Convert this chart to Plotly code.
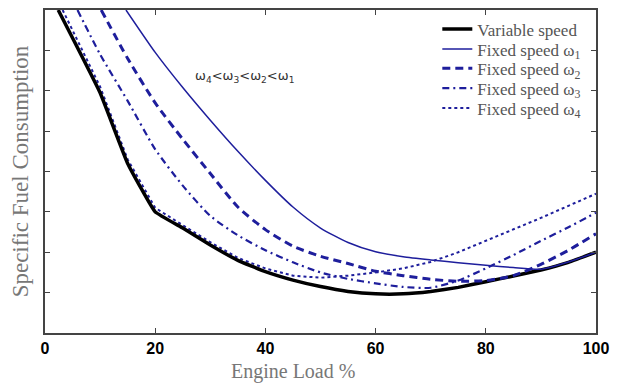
import plotly.graph_objects as go

# Engine load (%) sample points for each curve
load_var = [2.4, 10, 15, 20, 25, 30, 35, 40, 45, 50, 55, 60, 65, 70, 75, 80, 85, 90, 95, 100]
sfc_var = [8.0, 5.95, 4.2, 3.0, 2.6, 2.18, 1.8, 1.52, 1.31, 1.15, 1.03, 0.97, 0.97, 1.03, 1.13, 1.27, 1.41, 1.56, 1.75, 2.0]

load_w1 = [14.7, 20, 25, 30, 35, 40, 45, 50, 55, 60, 65, 70, 75, 80, 85, 90, 95, 100]
sfc_w1 = [8.0, 6.95, 6.08, 5.27, 4.5, 3.78, 3.12, 2.6, 2.24, 2.01, 1.89, 1.81, 1.74, 1.68, 1.62, 1.58, 1.76, 2.0]

load_w2 = [10.2, 15, 20, 25, 30, 35, 40, 45, 50, 55, 60, 65, 70, 75, 80, 85, 90, 95, 100]
sfc_w2 = [8.0, 6.8, 5.7, 4.8, 3.95, 3.12, 2.56, 2.15, 1.9, 1.72, 1.53, 1.42, 1.33, 1.28, 1.3, 1.42, 1.7, 2.05, 2.46]

load_w3 = [5.9, 10, 15, 20, 25, 30, 35, 40, 45, 50, 55, 60, 65, 70, 75, 80, 85, 90, 95, 100]
sfc_w3 = [8.0, 6.9, 5.75, 4.55, 3.65, 2.9, 2.42, 2.05, 1.75, 1.5, 1.34, 1.23, 1.14, 1.12, 1.3, 1.6, 1.93, 2.28, 2.62, 2.98]

load_w4 = [3.2, 10, 15, 20, 25, 30, 35, 40, 45, 50, 55, 60, 65, 70, 75, 80, 85, 90, 95, 100]
sfc_w4 = [8.0, 6.1, 4.3, 3.1, 2.67, 2.25, 1.86, 1.6, 1.42, 1.37, 1.42, 1.5, 1.6, 1.76, 2.0, 2.28, 2.55, 2.85, 3.15, 3.45]

x_ticks = [0, 20, 40, 60, 80, 100]
y_ticks = [0, 1, 2, 3, 4, 5, 6, 7, 8]

names = ["Variable speed", "Fixed speed ω<sub>1</sub>", "Fixed speed ω<sub>2</sub>",
         "Fixed speed ω<sub>3</sub>", "Fixed speed ω<sub>4</sub>"]

BLUE = "#1e1e9c"

fig = go.Figure()
fig.add_trace(go.Scatter(x=load_w4, y=sfc_w4, mode="lines", name=names[4], legend="legend5",
                         line=dict(color=BLUE, width=2, dash="dot")))
fig.add_trace(go.Scatter(x=load_var, y=sfc_var, mode="lines", name=names[0], legend="legend",
                         line=dict(color="black", width=3.5, shape="spline", smoothing=0.3)))
fig.add_trace(go.Scatter(x=load_w1, y=sfc_w1, mode="lines", name=names[1], legend="legend2",
                         line=dict(color=BLUE, width=1.5, shape="spline", smoothing=0.6)))
fig.add_trace(go.Scatter(x=load_w2, y=sfc_w2, mode="lines", name=names[2], legend="legend3",
                         line=dict(color=BLUE, width=3, dash="8px,5px", shape="spline", smoothing=0.6)))
fig.add_trace(go.Scatter(x=load_w3, y=sfc_w3, mode="lines", name=names[3], legend="legend4",
                         line=dict(color=BLUE, width=2.2, dash="7px,4px,2px,4px", shape="spline", smoothing=0.6)))

fig.add_annotation(x=36.2, y=6.35, xref="x", yref="y", showarrow=False,
                   text="ω<sub>4</sub><ω<sub>3</sub><ω<sub>2</sub><ω<sub>1</sub>",
                   font=dict(family="DejaVu Sans", size=13, color="#333333"))

fig.add_annotation(x=(295 - 45) / 556, y=-0.12, xref="x domain", yref="paper", showarrow=False,
                   text="Engine Load %", xanchor="center", yanchor="middle",
                   font=dict(family="Liberation Serif", size=20, color="#777777"))

legend_font = dict(family="Liberation Serif", size=17, color="#555555")
row_y = [0.94, 0.878, 0.818, 0.757, 0.695]
legend_layout = {}
for i, yy in enumerate(row_y):
    key = "legend" if i == 0 else f"legend{i+1}"
    legend_layout[key] = dict(x=0.712, y=yy, xanchor="left", yanchor="middle",
                              bgcolor="rgba(0,0,0,0)", font=legend_font)

fig.update_layout(
    width=617, height=388,
    margin=dict(l=45, r=16, t=8, b=55),
    paper_bgcolor="white", plot_bgcolor="white",
    showlegend=True,
    **legend_layout,
    xaxis=dict(range=[0, 100], tickvals=x_ticks, ticktext=[str(v) for v in x_ticks],
               ticks="inside", ticklen=5, tickcolor="#444", showgrid=False, zeroline=False,
               showline=True, linecolor="#444", linewidth=1.5, mirror="ticks",
               tickfont=dict(family="Liberation Sans", size=16, color="black", weight="bold")),
    yaxis=dict(range=[0, 8], tickvals=y_ticks, showticklabels=False,
               ticks="inside", ticklen=5, tickcolor="#444", showgrid=False, zeroline=False,
               showline=True, linecolor="#444", linewidth=1.5, mirror="ticks",
               title=dict(text="Specific Fuel Consumption", standoff=8,
                          font=dict(family="Liberation Serif", size=23, color="#777777"))),
)

fig.write_html("out.html")
